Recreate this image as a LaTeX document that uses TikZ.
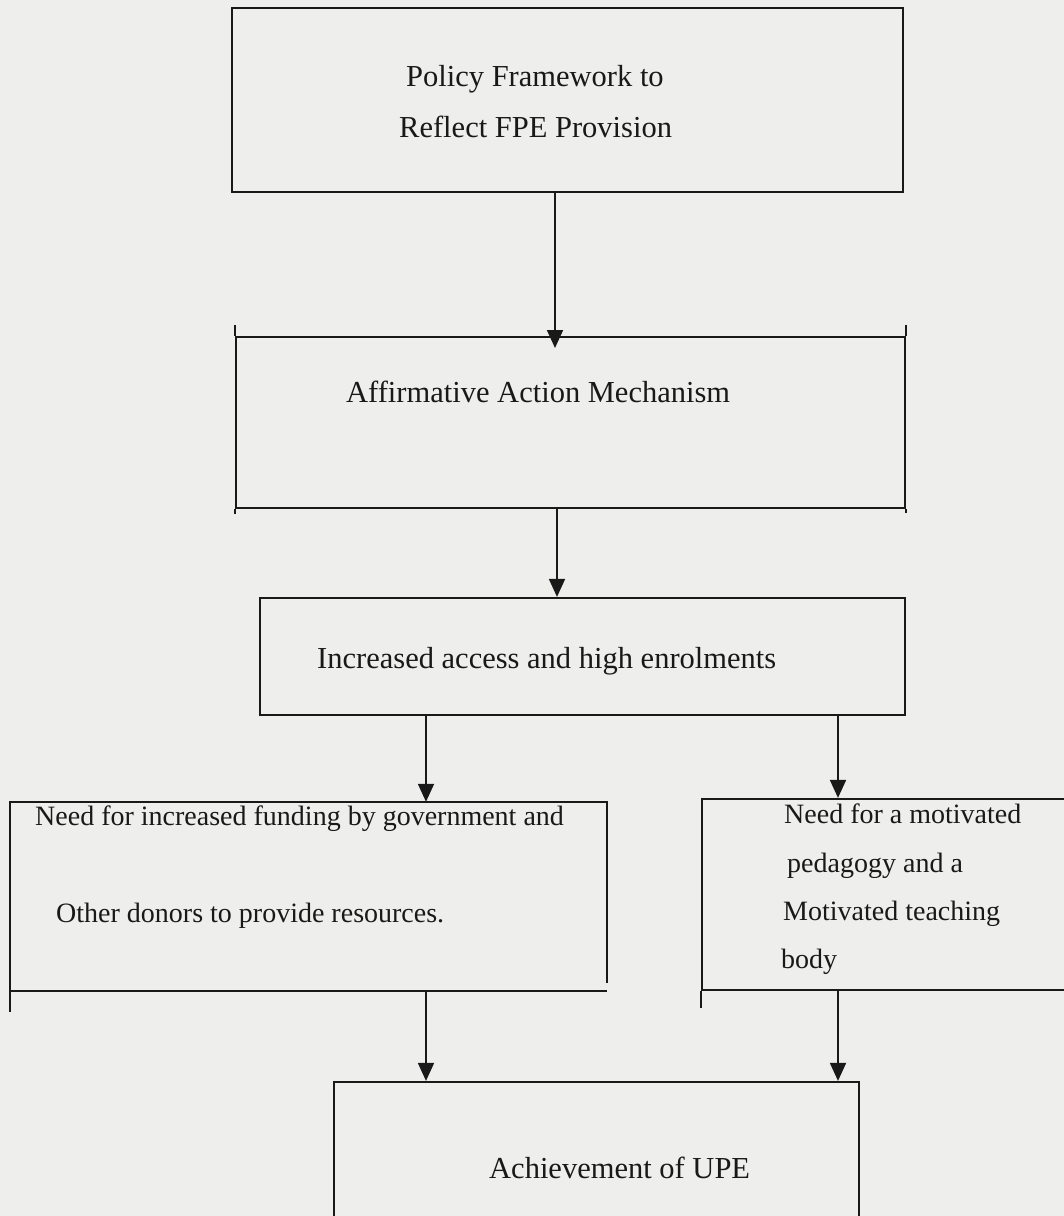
\documentclass[tikz,border=0pt]{standalone}
\usepackage{fontspec}
\setmainfont{Liberation Serif}
\usetikzlibrary{arrows.meta}
\definecolor{paper}{RGB}{238,238,237}
\definecolor{ink}{RGB}{25,25,25}
\tikzset{
  boxshape/.style={rectangle, inner sep=0pt, line width=2.2pt, draw=ink},
  boxline/.style={line width=2.2pt, draw=ink},
  arr/.style={line width=1.8pt, draw=ink, -{Triangle[length=18pt,width=16pt]}, fill=ink},
  lbl/.style={anchor=base west, inner sep=0pt, text=ink, font=\fontsize{30.5}{36}\selectfont},
  lblsmall/.style={lbl, font=\fontsize{28}{34}\selectfont}
}
\begin{document}
\begin{tikzpicture}[x=1pt,y=-1pt]
\clip (0,0) rectangle (1064,1216);
\fill[paper] (0,0) rectangle (1064,1216);

% boxes
\node[boxshape, minimum width=671pt, minimum height=184pt] (b1) at (567.5,100) {};
\node[boxshape, minimum width=669pt, minimum height=171pt] (b2) at (570.5,422.5) {};
\node[boxshape, minimum width=645pt, minimum height=117pt] (b3) at (582.5,656.5) {};
\node[rectangle, inner sep=0pt, minimum width=597pt, minimum height=189pt] (b4) at (308.5,896.5) {};
\node[boxshape, minimum width=378pt, minimum height=191pt] (b5) at (891,894.5) {};
\node[boxshape, minimum width=525pt, minimum height=160pt] (b6) at (596.5,1162) {};

% box 4 drawn side by side (its right side stops short)
\draw[boxline] (b4.south west) -- (b4.north west) -- (b4.north east) -- ([yshift=8pt]b4.south east);
\draw[boxline] (b4.south west) -- (b4.south east);

% small overruns of the box sides
\draw[boxline] (b2.north west) -- ++(0,-11);
\draw[boxline] (b2.north east) -- ++(0,-11);
\draw[boxline] (b2.south west) -- ++(0,5);
\draw[boxline] (b2.south east) -- ++(0,4);
\draw[boxline] (b4.south west) -- ++(0,21);
\draw[boxline] (b5.south west) -- ++(0,17);

% texts
\node[lbl] (t1a) at (406,86) {Policy Framework to};
\node[lbl] (t1b) at (399,137) {Reflect FPE Provision};
\node[lbl] (t2) at (346,402) {Affirmative Action Mechanism};
\node[lbl] (t3) at (317,668) {Increased access and high enrolments};
\node[lblsmall] (t4a) at (35,825) {Need for increased funding by government and};
\node[lblsmall] (t4b) at (56,922) {Other donors to provide resources.};
\node[lblsmall] (t5a) at (784,823) {Need for a motivated};
\node[lblsmall] (t5b) at (787,872) {pedagogy and a};
\node[lblsmall] (t5c) at (783,920) {Motivated teaching};
\node[lblsmall] (t5d) at (781,968) {body};
\node[lbl] (t6) at (489,1178) {Achievement of UPE};

% connectors
\coordinate (ta1) at (555,348);
\coordinate (x2) at (557,0);
\coordinate (xl) at (426,0);
\coordinate (xr) at (838,0);
\draw[arr] (b1.south -| ta1) -- (ta1);
\draw[arr] (b2.south -| x2) -- (b3.north -| x2);
\draw[arr] (b3.south -| xl) -- (b4.north -| xl);
\draw[arr] (b3.south -| xr) -- (b5.north -| xr);
\draw[arr] (b4.south -| xl) -- (b6.north -| xl);
\draw[arr] (b5.south -| xr) -- (b6.north -| xr);
\end{tikzpicture}
\end{document}
